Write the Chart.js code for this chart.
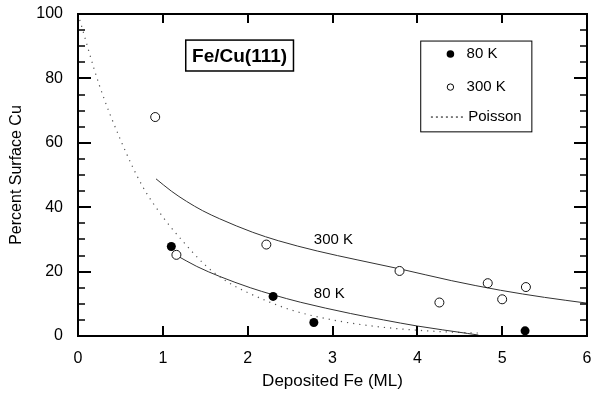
<!DOCTYPE html>
<html>
<head>
<meta charset="utf-8">
<script src="https://cdn.jsdelivr.net/npm/chart.js@4"></script>
<style>
  html, body { margin: 0; padding: 0; background: #fff; }
  #wrap { width: 595px; height: 394px; }
</style>
</head>
<body>
<div id="wrap"><canvas id="myChart" width="595" height="394"></canvas></div>
<script>
// measured points
const x80 = [1.1, 2.3, 2.78, 5.27];
const y80 = [27.8, 12.3, 4.2, 1.6];
const x300 = [0.91, 1.16, 2.22, 3.79, 4.26, 4.83, 5.0, 5.28];
const y300 = [68, 25.2, 28.4, 20.2, 10.4, 16.4, 11.4, 15.2];

// fitted curves
const fit300X = [0.92, 1.1, 1.28, 1.47, 1.67, 2.06, 2.36, 2.82, 3.3, 3.8, 4.4, 4.98, 5.5, 6.0];
const fit300Y = [48.8, 45.0, 41.8, 38.9, 36.4, 32.2, 29.6, 26.4, 23.6, 20.8, 17.2, 14.2, 12.0, 10.2];
const fit80X = [1.15, 1.4, 1.67, 2.03, 2.3, 2.62, 3.21, 3.6, 4.0, 4.3, 4.59, 4.72];
const fit80Y = [25.2, 21.6, 18.5, 15.0, 12.8, 10.5, 7.0, 5.0, 3.1, 1.9, 0.8, 0.3];
const poissonX = [0, 0.25, 0.5, 0.75, 1, 1.25, 1.5, 1.75, 2, 2.5, 3, 3.5, 4, 4.5, 4.75];
const poissonY = [100, 78, 61, 47, 37, 29, 22, 17, 13.5, 8.2, 5, 3, 1.8, 1.1, 0.9];

// axis ticks
const xTicks = [0, 1, 2, 3, 4, 5, 6];
const yMajor = [0, 20, 40, 60, 80, 100];
const yMinor = [5, 10, 15, 25, 30, 35, 45, 50, 55, 65, 70, 75, 85, 90, 95];

const FONT = '"Liberation Sans", Arial, Helvetica, sans-serif';

function pts(xs, ys) {
  return xs.map((x, i) => ({ x: x, y: ys[i] }));
}

// frame with inward ticks, like the original plot
const framePlugin = {
  id: 'frame',
  afterDraw(chart) {
    const ctx = chart.ctx;
    const a = chart.chartArea;
    const xs = chart.scales.x;
    const ys = chart.scales.y;
    ctx.save();
    ctx.strokeStyle = '#000';
    ctx.lineWidth = 2;
    ctx.strokeRect(a.left, a.top, a.right - a.left, a.bottom - a.top);
    ctx.beginPath();
    xTicks.forEach(v => {
      if (v === 0 || v === 6) return;
      const px = Math.round(xs.getPixelForValue(v));
      ctx.moveTo(px, a.bottom); ctx.lineTo(px, a.bottom - 10);
      ctx.moveTo(px, a.top); ctx.lineTo(px, a.top + 9);
    });
    yMajor.forEach(v => {
      const py = Math.round(ys.getPixelForValue(v));
      ctx.moveTo(a.left, py); ctx.lineTo(a.left + 13, py);
      ctx.moveTo(a.right, py); ctx.lineTo(a.right - 13, py);
    });
    ctx.stroke();
    ctx.lineWidth = 1.5;
    ctx.beginPath();
    yMinor.forEach(v => {
      const py = Math.round(ys.getPixelForValue(v));
      ctx.moveTo(a.left, py); ctx.lineTo(a.left + 7, py);
      ctx.moveTo(a.right, py); ctx.lineTo(a.right - 7, py);
    });
    ctx.stroke();
    ctx.restore();
  }
};

// title box, curve labels and the key
const notesPlugin = {
  id: 'notes',
  afterDraw(chart) {
    const ctx = chart.ctx;
    const xs = chart.scales.x;
    const ys = chart.scales.y;
    const X = v => xs.getPixelForValue(v);
    const Y = v => ys.getPixelForValue(v);
    ctx.save();
    ctx.fillStyle = '#000';
    ctx.strokeStyle = '#000';

    // Fe/Cu(111) box
    ctx.lineWidth = 1.5;
    const bx = X(1.27), by = Y(91.9), bw = X(2.54) - bx, bh = Y(82.3) - by;
    ctx.strokeRect(bx, by, bw, bh);
    ctx.font = 'bold 19px ' + FONT;
    ctx.textAlign = 'center';
    ctx.textBaseline = 'middle';
    ctx.fillText('Fe/Cu(111)', bx + bw / 2, by + bh / 2 + 1);

    // curve labels
    ctx.font = '15px ' + FONT;
    ctx.textAlign = 'left';
    ctx.fillText('300 K', X(2.78), Y(29.8));
    ctx.fillText('80 K', X(2.78), Y(13.0));

    // key box
    ctx.lineWidth = 1;
    const lx = X(4.04), ly = Y(91.6), lw = X(5.35) - lx, lh = Y(63.4) - ly;
    ctx.strokeRect(lx, ly, lw, lh);
    ctx.beginPath();
    ctx.arc(X(4.39), Y(87.6), 3.8, 0, Math.PI * 2);
    ctx.fill();
    ctx.fillText('80 K', X(4.58), Y(87.6));
    ctx.beginPath();
    ctx.arc(X(4.39), Y(77.3), 3.2, 0, Math.PI * 2);
    ctx.stroke();
    ctx.fillText('300 K', X(4.58), Y(77.3));
    ctx.setLineDash([2, 3]);
    ctx.beginPath();
    ctx.moveTo(X(4.16), Y(68));
    ctx.lineTo(X(4.57), Y(68));
    ctx.stroke();
    ctx.setLineDash([]);
    ctx.fillText('Poisson', X(4.6), Y(68));
    ctx.restore();
  }
};

const ctx = document.getElementById('myChart').getContext('2d');

new Chart(ctx, {
  type: 'scatter',
  data: {
    datasets: [
      {
        label: '80 K',
        data: pts(x80, y80),
        pointStyle: 'circle',
        pointRadius: 4.5,
        backgroundColor: '#000',
        borderColor: '#000',
        borderWidth: 0
      },
      {
        label: '300 K',
        data: pts(x300, y300),
        pointStyle: 'circle',
        pointRadius: 4.5,
        backgroundColor: '#fff',
        borderColor: '#111',
        borderWidth: 1
      },
      {
        label: '300 K fit',
        data: pts(fit300X, fit300Y),
        showLine: true,
        pointRadius: 0,
        borderColor: '#333',
        borderWidth: 1,
        cubicInterpolationMode: 'monotone'
      },
      {
        label: '80 K fit',
        data: pts(fit80X, fit80Y),
        showLine: true,
        pointRadius: 0,
        borderColor: '#333',
        borderWidth: 1,
        cubicInterpolationMode: 'monotone'
      },
      {
        label: 'Poisson',
        data: pts(poissonX, poissonY),
        showLine: true,
        pointRadius: 0,
        borderColor: '#555',
        borderWidth: 1.2,
        borderDash: [1.2, 5],
        cubicInterpolationMode: 'monotone'
      }
    ]
  },
  options: {
    responsive: false,
    animation: false,
    layout: { padding: { left: 0, top: 14, right: 8, bottom: 0 } },
    scales: {
      x: {
        type: 'linear',
        min: 0,
        max: 6,
        grid: { display: false, drawTicks: false },
        border: { display: false },
        ticks: {
          stepSize: 1,
          padding: 13,
          color: '#000',
          font: { family: FONT, size: 16 }
        },
        title: {
          display: true,
          text: 'Deposited Fe (ML)',
          color: '#000',
          font: { family: FONT, size: 17 },
          padding: { top: 0, bottom: 2 }
        },
        afterFit(scale) {
          scale.height = 58;
          scale.paddingLeft = 0;
          scale.paddingRight = 0;
        }
      },
      y: {
        type: 'linear',
        min: 0,
        max: 100,
        grid: { display: false, drawTicks: false },
        border: { display: false },
        ticks: {
          stepSize: 20,
          padding: 15,
          color: '#000',
          font: { family: FONT, size: 16 }
        },
        title: {
          display: true,
          text: 'Percent Surface Cu',
          color: '#000',
          font: { family: FONT, size: 16 },
          padding: { top: 7, bottom: 0 }
        },
        afterFit(scale) {
          scale.width = 78;
          scale.paddingTop = 0;
          scale.paddingBottom = 0;
        }
      }
    },
    plugins: {
      legend: { display: false },
      tooltip: { enabled: false }
    }
  },
  plugins: [framePlugin, notesPlugin]
});
</script>
</body>
</html>
